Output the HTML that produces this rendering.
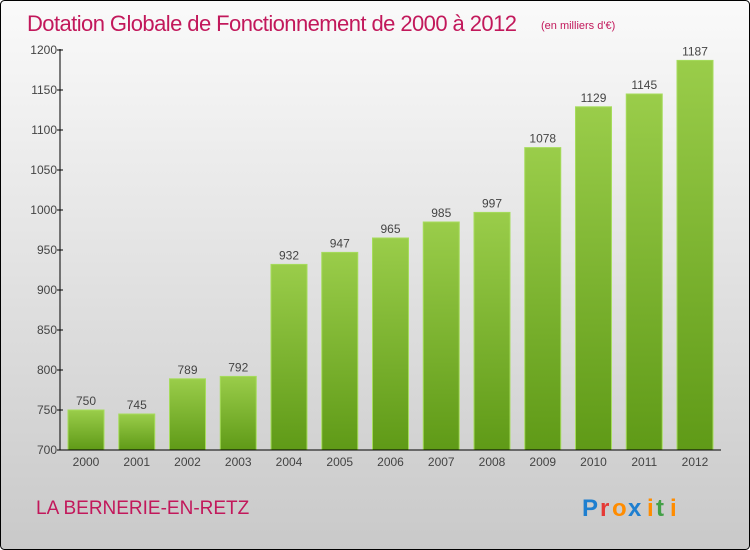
<!DOCTYPE html>
<html><head><meta charset="utf-8"><style>
body{margin:0;width:750px;height:550px;overflow:hidden}
svg{display:block;font-family:"Liberation Sans",sans-serif}
</style></head><body>
<svg id="c" width="750" height="550">
<defs>
<linearGradient id="bg" x1="0" y1="0" x2="0" y2="1"><stop offset="0" stop-color="#fafafa"/><stop offset="1" stop-color="#c9c9c9"/></linearGradient>
<linearGradient id="bar" x1="0" y1="0" x2="0" y2="1"><stop offset="0" stop-color="#9acd4a"/><stop offset="1" stop-color="#5f9a17"/></linearGradient>
</defs>
<rect x="0.5" y="0.5" width="749" height="549" rx="4" fill="url(#bg)" stroke="#000"/>
<text x="27" y="31" font-size="22" fill="#c2185b" textLength="490">Dotation Globale de Fonctionnement de 2000 à 2012</text>
<text x="541" y="29" font-size="11" fill="#c2185b">(en milliers d'€)</text>
<text x="36" y="514" font-size="19" fill="#c2185b">LA BERNERIE-EN-RETZ</text>
<g font-size="24" font-weight="bold">
<text x="582" y="516" fill="#1e7fd0">P</text><text x="600" y="516" fill="#e53935">r</text><text x="612" y="516" fill="#ff8c00">o</text><text x="628" y="516" fill="#1e7fd0">x</text><text x="647" y="516" fill="#ff8c00">i</text><text x="656" y="516" fill="#43a047">t</text><text x="670" y="516" fill="#ff8c00">i</text>
</g>
<g id="plot"></g>
</svg>
<script>
const years=["2000","2001","2002","2003","2004","2005","2006","2007","2008","2009","2010","2011","2012"];
const values=[750,745,789,792,932,947,965,985,997,1078,1129,1145,1187];
const yTicks=[700,750,800,850,900,950,1000,1050,1100,1150,1200];
const ns="http://www.w3.org/2000/svg",g=document.getElementById('plot');
const y0=700,y1=1200,py0=450,py1=50,xL=60,xR=721;
const y=v=>py0-(v-y0)/(y1-y0)*(py0-py1);
const x=i=>86+i*50.75;
function mk(t,a,p){const e=document.createElementNS(ns,t);for(const k in a)e.setAttribute(k,a[k]);(p||g).appendChild(e);return e;}
values.forEach((v,i)=>{
 const r=mk('rect',{x:x(i)-18,y:y(v),width:36,height:py0-y(v),fill:'url(#bar)',stroke:'#a6dc5c','stroke-width':1});
 
 
 const t=mk('text',{x:x(i),y:y(v)-5,'text-anchor':'middle','font-size':12,fill:'#444'});t.textContent=v;
 
 
 const xt=mk('text',{x:x(i),y:py0+16,'text-anchor':'middle','font-size':12,fill:'#444'});xt.textContent=years[i];
 
 
});
yTicks.forEach(v=>{
 mk('line',{x1:xL-3,x2:xL+3,y1:y(v),y2:y(v),stroke:'#000'});
 const t=mk('text',{x:xL-3,y:y(v)+4,'text-anchor':'end','font-size':12,fill:'#444'});t.textContent=v;
 
 
});
const ya=mk('line',{x1:xL,x2:xL,y1:py1-1,y2:py0,stroke:'#000'});


const xa=mk('line',{x1:xL,x2:xR,y1:py0,y2:py0,stroke:'#000'});


</script>
</body></html>
